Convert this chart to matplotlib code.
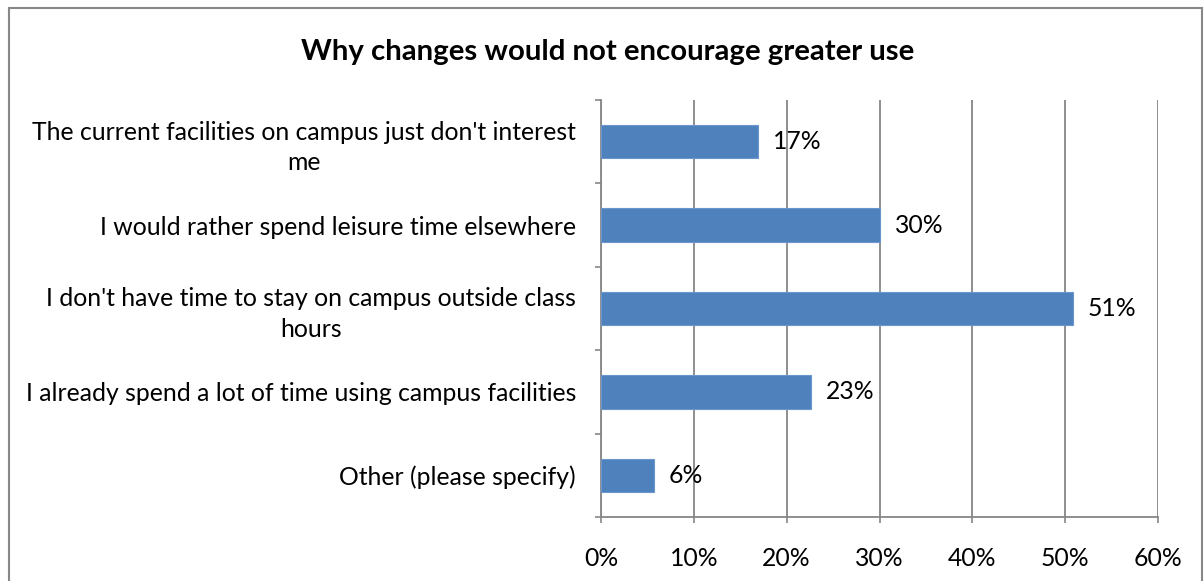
import matplotlib
matplotlib.use("Agg")
import matplotlib.pyplot as plt
import numpy as np
from matplotlib.patches import Rectangle

categories = [
    "The current facilities on campus just don't interest\nme",
    "I would rather spend leisure time elsewhere",
    "I don't have time to stay on campus outside class\nhours",
    "I already spend a lot of time using campus facilities",
    "Other (please specify)",
]
values = [16.9, 30.1, 50.8, 22.6, 5.7]
xticks = [0, 10, 20, 30, 40, 50, 60]
xtick_labels = ["0%", "10%", "20%", "30%", "40%", "50%", "60%"]
title = "Why changes would not encourage greater use"

plt.rcParams['font.family'] = ['Lato', 'DejaVu Sans']
W, H = 1204, 581
fig = plt.figure(figsize=(W / 100, H / 100), dpi=100)
ax = fig.add_axes([601 / W, 1 - 517 / H, (1158 - 601) / W, (517 - 100) / H])

FS = 17.8
grid_c = "#868686"
y = np.arange(len(categories))
ax.barh(y, values, height=0.4, color="#4F81BD", edgecolor="#6A96CC", linewidth=0.8, zorder=3)
for yi, v in zip(y, values):
    ax.text(v + 1.6, yi, f"{v:.0f}%", va="center", ha="left", fontsize=FS, color="#000000", zorder=4)

ax.set_xlim(0, 60)
ax.set_ylim(len(categories) - 0.5, -0.5)
ax.set_xticks(xticks)
ax.set_xticklabels(xtick_labels, fontsize=FS)
ax.set_yticks(y)
ax.set_yticklabels(categories, fontsize=FS, multialignment="center", linespacing=1.4)
ax.set_yticks(np.arange(len(categories) + 1) - 0.5, minor=True)
ax.tick_params(axis="y", which="major", length=0, pad=18)
ax.tick_params(axis="y", which="minor", length=4.5, width=1.2, color=grid_c, direction="out")
ax.tick_params(axis="x", length=4.5, width=1.2, color=grid_c, direction="out", pad=17)
ax.grid(axis="x", color=grid_c, linewidth=1.3, zorder=0)
for s in ["top", "right"]:
    ax.spines[s].set_visible(False)
ax.spines["left"].set_color(grid_c)
ax.spines["left"].set_linewidth(1.3)
ax.spines["bottom"].set_color(grid_c)
ax.spines["bottom"].set_linewidth(1.3)
ax.set_axisbelow(True)

fig.text(608 / W, 1 - 52 / H, title, ha="center", va="center", fontsize=21.2, fontweight="bold")

fig.patches.append(Rectangle((9 / W, -0.05), (1202 - 9) / W, 1.05 - 8 / H,
                             transform=fig.transFigure, fill=False, edgecolor="#888888", linewidth=1.5))

fig.savefig("out.png", dpi=100)
